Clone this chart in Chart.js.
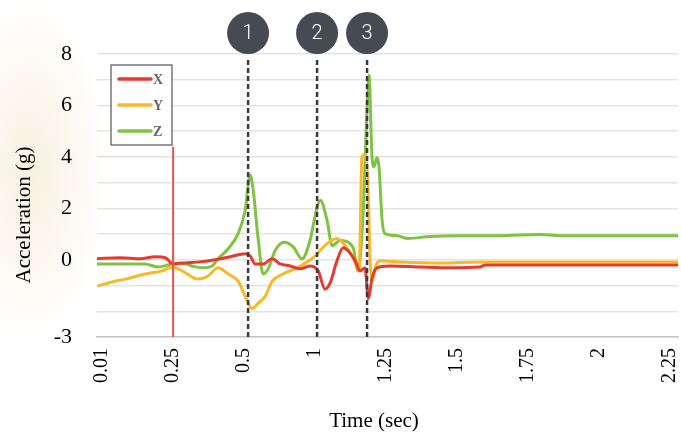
<!DOCTYPE html>
<html>
<head>
<meta charset="utf-8">
<script src="https://cdn.jsdelivr.net/npm/chart.js@4"></script>
<style>
  body { margin: 0; background: #fff; }
  #wrap {
    width: 681px; height: 436px;
    background: radial-gradient(ellipse 80px 170px at 30px 170px, rgba(236, 214, 168, 0.35), rgba(255, 255, 255, 0)), #fff;
  }
</style>
</head>
<body>
<div id="wrap"><canvas id="accChart" width="681" height="436"></canvas></div>
<script>
// tick positions on the time axis and the labels printed under them
const tickPos = [0, 0.25, 0.5, 0.75, 1, 1.25, 1.5, 1.75, 2];
const tickLabels = ["0.01", "0.25", "0.5", "1", "1.25", "1.5", "1.75", "2", "2.25"];
const yLabels = [8, 6, 4, 2, 0, -3];

// numbered events (dashed lines) and the red start marker
const events = [0.514, 0.757, 0.933];
const eventNames = ["1", "2", "3"];
const startMark = 0.25;
const startTop = 4.4;

// X axis acceleration
const timeX = [-0.018, 0.063, 0.134, 0.187, 0.222, 0.25, 0.292, 0.345, 0.398, 0.451, 0.504, 0.521, 0.539, 0.567, 0.599, 0.627, 0.662, 0.697, 0.732, 0.761, 0.785, 0.803, 0.827, 0.849, 0.866, 0.891, 0.908, 0.926, 0.937, 0.951, 0.968, 1.014, 1.12, 1.225, 1.331, 1.349, 2.028];
const accX = [0.04, 0.08, 0.04, 0.12, 0.08, -0.16, -0.12, -0.08, 0, 0.12, 0.24, 0.16, -0.16, -0.16, 0.04, -0.16, -0.24, -0.35, -0.24, -0.43, -1.14, -0.9, -0.04, 0.47, 0.35, -0.04, -0.43, -0.31, -1.5, -0.7, -0.31, -0.24, -0.28, -0.31, -0.28, -0.2, -0.2];

// Y axis acceleration
const timeY = [-0.018, 0.046, 0.081, 0.151, 0.211, 0.246, 0.282, 0.338, 0.373, 0.408, 0.444, 0.479, 0.504, 0.528, 0.549, 0.574, 0.599, 0.637, 0.687, 0.743, 0.792, 0.827, 0.856, 0.884, 0.905, 0.915, 0.926, 0.937, 0.944, 0.951, 0.961, 0.979, 1.049, 1.19, 1.331, 2.028];
const accY = [-1.02, -0.83, -0.75, -0.55, -0.43, -0.28, -0.43, -0.75, -0.63, -0.31, -0.55, -0.83, -1.42, -1.89, -1.69, -1.42, -0.83, -0.55, -0.31, 0.08, 0.63, 0.83, 0.55, 0.08, -0.43, 4.02, 4.09, 2.6, -0.04, -0.83, -0.31, -0.04, -0.08, -0.12, -0.08, -0.08];

// Z axis acceleration
const timeZ = [-0.018, 0.092, 0.151, 0.197, 0.246, 0.282, 0.317, 0.352, 0.387, 0.408, 0.444, 0.479, 0.504, 0.521, 0.532, 0.549, 0.567, 0.585, 0.609, 0.641, 0.673, 0.704, 0.732, 0.757, 0.768, 0.792, 0.81, 0.838, 0.884, 0.901, 0.919, 0.933, 0.94, 0.951, 0.958, 0.968, 0.975, 0.986, 0.996, 1.039, 1.077, 1.155, 1.261, 1.401, 1.542, 1.613, 2.028];
const accZ = [-0.16, -0.16, -0.16, -0.28, -0.16, -0.12, -0.24, -0.31, -0.24, 0.04, 0.43, 1.02, 1.93, 3.31, 2.72, 0.87, -0.55, -0.35, 0.35, 0.68, 0.5, 0.04, 0.75, 2.05, 2.32, 1.54, 0.55, 0.75, 0.47, -0.43, 1.81, 5.87, 7.17, 3.9, 3.62, 3.98, 3.62, 1.54, 1.02, 0.94, 0.83, 0.91, 0.94, 0.94, 0.98, 0.94, 0.94];

const SERIF = "'Liberation Serif', 'Times New Roman', serif";
const pts = (ts, vs) => ts.map((t, i) => ({ x: t, y: vs[i] }));

const series = [
  { label: "X", data: pts(timeX, accX), color: "#e8392f" },
  { label: "Y", data: pts(timeY, accY), color: "#f8b928" },
  { label: "Z", data: pts(timeZ, accZ), color: "#80c342" },
];

const overlay = {
  id: "overlay",
  afterDatasetsDraw(chart) {
    const { ctx, chartArea: a, scales: { x, y } } = chart;
    ctx.save();
    // red start line
    const sx = x.getPixelForValue(startMark);
    ctx.strokeStyle = "#e2554b";
    ctx.lineWidth = 2;
    ctx.beginPath();
    ctx.moveTo(sx, y.getPixelForValue(startTop));
    ctx.lineTo(sx, a.bottom);
    ctx.stroke();
    // dashed event lines
    ctx.setLineDash([5, 3]);
    ctx.strokeStyle = "#3a3a3a";
    ctx.lineWidth = 2.5;
    events.forEach((t) => {
      const px = x.getPixelForValue(t);
      ctx.beginPath();
      ctx.moveTo(px, a.top + 6);
      ctx.lineTo(px, a.bottom + 2);
      ctx.stroke();
    });
    ctx.restore();
  },
  afterDraw(chart) {
    const { ctx, chartArea: a, scales: { x } } = chart;
    ctx.save();
    // numbered circles
    events.forEach((t, i) => {
      const px = x.getPixelForValue(t);
      ctx.fillStyle = "#464b53";
      ctx.beginPath();
      ctx.arc(px, a.top - 21, 21, 0, Math.PI * 2);
      ctx.fill();
      ctx.fillStyle = "#fff";
      ctx.font = "300 20px Roboto, 'Liberation Sans', sans-serif";
      ctx.textAlign = "center";
      ctx.textBaseline = "middle";
      ctx.fillText(eventNames[i], px, a.top - 20);
    });
    // legend box
    const lx = a.left + 14, ly = a.top + 11;
    ctx.fillStyle = "#fff";
    ctx.fillRect(lx, ly, 61, 80);
    ctx.strokeStyle = "#555";
    ctx.lineWidth = 1.2;
    ctx.strokeRect(lx, ly, 61, 80);
    series.forEach((s, i) => {
      const yy = ly + 14 + i * 26;
      ctx.strokeStyle = s.color;
      ctx.lineWidth = 3.5;
      ctx.lineCap = "round";
      ctx.beginPath();
      ctx.moveTo(lx + 8, yy);
      ctx.lineTo(lx + 40, yy);
      ctx.stroke();
      ctx.fillStyle = "#666";
      ctx.font = "bold 14px " + SERIF;
      ctx.textAlign = "left";
      ctx.textBaseline = "middle";
      ctx.fillText(s.label, lx + 42, yy + 1);
    });
    // axis titles
    ctx.fillStyle = "#000";
    ctx.font = "21px " + SERIF;
    ctx.textAlign = "center";
    ctx.textBaseline = "middle";
    ctx.fillText("Time (sec)", 374, 421);
    ctx.translate(24, 215);
    ctx.rotate(-Math.PI / 2);
    ctx.fillText("Acceleration (g)", 0, 0);
    ctx.restore();
  },
};

new Chart(document.getElementById("accChart"), {
  type: "line",
  data: {
    datasets: series.map((s) => ({
      label: s.label,
      data: s.data,
      borderColor: s.color,
      backgroundColor: s.color,
      borderWidth: 3,
      pointRadius: 0,
      cubicInterpolationMode: "monotone",
      fill: false,
    })),
  },
  options: {
    responsive: false,
    animation: false,
    devicePixelRatio: 1,
    layout: { padding: { top: 54, right: 3, left: 0, bottom: 0 } },
    plugins: { legend: { display: false }, tooltip: { enabled: false } },
    scales: {
      x: {
        type: "linear",
        min: -0.018,
        max: 2.028,
        afterBuildTicks: (scale) => { scale.ticks = tickPos.map((v) => ({ value: v })); },
        afterFit: (scale) => {
          scale.height = 99;
          scale.paddingLeft = 0;
          scale.paddingRight = 0;
        },
        ticks: {
          autoSkip: false,
          minRotation: 90,
          maxRotation: 90,
          padding: 11,
          color: "#000",
          font: { family: SERIF, size: 20 },
          callback: (v, i) => tickLabels[i],
        },
        grid: { drawOnChartArea: false, drawTicks: false },
        border: { display: true, color: "#c6c6c6", width: 1.5 },
      },
      y: {
        min: -3,
        max: 8,
        afterBuildTicks: (scale) => {
          const t = [];
          for (let v = -3; v <= 8; v++) t.push({ value: v });
          scale.ticks = t;
        },
        afterFit: (scale) => {
          scale.width = 97;
          scale.paddingTop = 0;
          scale.paddingBottom = 0;
        },
        ticks: {
          autoSkip: false,
          padding: 25,
          color: "#000",
          font: { family: SERIF, size: 22 },
          callback: (v) => (yLabels.includes(v) ? String(v) : ""),
        },
        grid: { color: "#e4e4e4", lineWidth: 1.5, drawTicks: false },
        border: { display: false },
      },
    },
  },
  plugins: [overlay],
});
</script>
</body>
</html>
